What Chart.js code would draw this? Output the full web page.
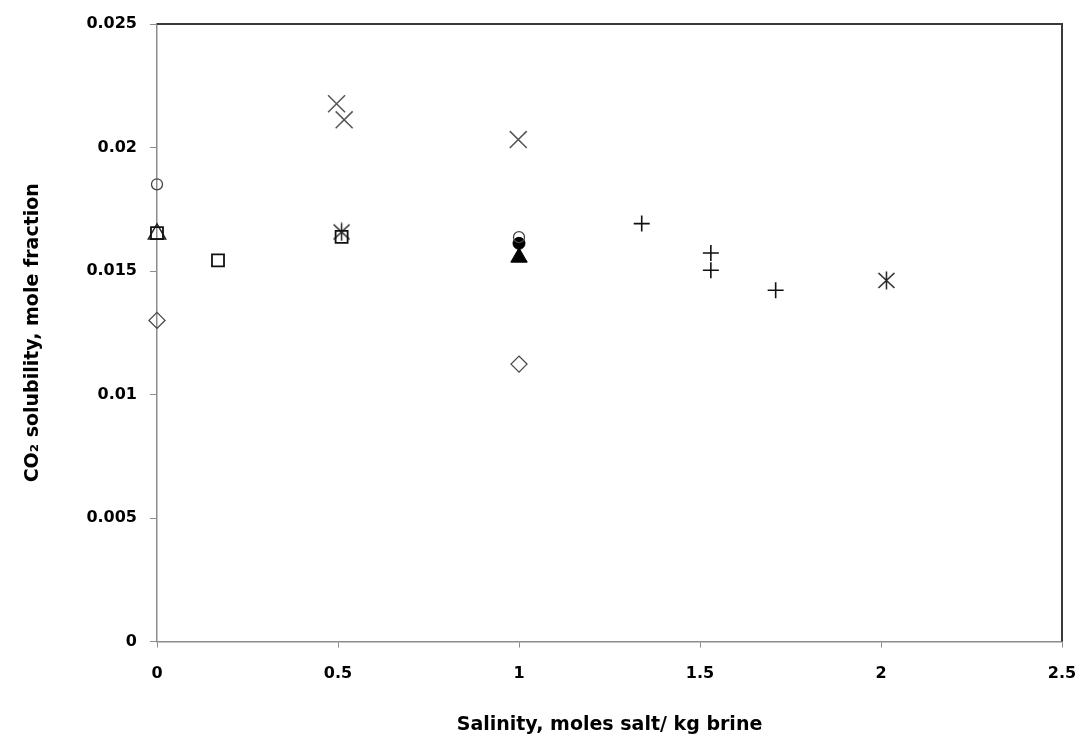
<!DOCTYPE html>
<html>
<head>
<meta charset="utf-8">
<script src="https://cdn.jsdelivr.net/npm/chart.js@4/dist/chart.umd.min.js"></script>
<style>
  html, body { margin: 0; padding: 0; background: #ffffff; }
  #wrap { width: 1082px; height: 742px; position: relative; }
</style>
</head>
<body>
<div id="wrap"><canvas id="c" width="1082" height="742"></canvas></div>
<script>
// ---- Data (x = salinity, y = CO2 mole fraction) ----
const openCircleX   = [0, 1.0];
const openCircleY   = [0.01851, 0.01637];
const openSquareX   = [0, 0.1685, 0.510];
const openSquareY   = [0.01653, 0.01543, 0.01638];
const openTriangleX = [0];
const openTriangleY = [0.01650];
const diamondX      = [0, 1.0];
const diamondY      = [0.01300, 0.01123];
const crossXX       = [0.496, 0.517, 0.998];
const crossXY       = [0.02177, 0.02112, 0.02032];
const starX         = [0.510, 2.015];
const starY         = [0.01658, 0.01462];
const plusX         = [1.339, 1.530, 1.530, 1.709];
const plusY         = [0.01692, 0.01573, 0.01503, 0.01422];
const filledCircleX = [1.0];
const filledCircleY = [0.01612];
const filledTriX    = [1.0];
const filledTriY    = [0.01555];

const xTicks = [0, 0.5, 1, 1.5, 2, 2.5];
const xTickLabels = ['0', '0.5', '1', '1.5', '2', '2.5'];
const yTicks = [0, 0.005, 0.01, 0.015, 0.02, 0.025];
const yTickLabels = ['0', '0.005', '0.01', '0.015', '0.02', '0.025'];

const xTitle = 'Salinity, moles salt/ kg brine';
const yTitle = 'CO\u2082 solubility, mole fraction';

function pts(xs, ys) { return xs.map((x, i) => ({ x: x, y: ys[i] })); }

// Asterisk marker (X with vertical bar), as in the reference
const star = document.createElement('canvas');
star.width = 19; star.height = 19;
(function () {
  const c = star.getContext('2d');
  c.strokeStyle = '#222';
  c.lineWidth = 1.5;
  c.beginPath();
  c.moveTo(1.5, 2); c.lineTo(17.5, 17);
  c.moveTo(17.5, 2); c.lineTo(1.5, 17);
  c.moveTo(9.5, 0.5); c.lineTo(9.5, 18.5);
  c.stroke();
})();

const FONT = "'DejaVu Sans', 'Liberation Sans', Arial, sans-serif";

const frame = {
  id: 'frame',
  beforeDatasetsDraw(chart) {
    const a = chart.chartArea, ctx = chart.ctx;
    ctx.save();
    ctx.strokeStyle = '#3a3a3a';
    ctx.lineWidth = 2;
    ctx.beginPath();
    ctx.moveTo(a.left, a.top);
    ctx.lineTo(a.right, a.top);
    ctx.lineTo(a.right, a.bottom);
    ctx.stroke();
    ctx.restore();
  }
};

function ds(label, data, style, radius, opts) {
  return Object.assign({
    label: label,
    data: data,
    showLine: false,
    clip: false,
    pointStyle: style,
    pointRadius: radius,
    pointHoverRadius: radius,
    pointBorderWidth: 1.5,
    pointBorderColor: '#222',
    pointBackgroundColor: 'rgba(0,0,0,0)'
  }, opts || {});
}

new Chart(document.getElementById('c'), {
  type: 'scatter',
  data: {
    datasets: [
      ds('open circle', pts(openCircleX, openCircleY), 'circle', 5.5, { pointBorderColor: '#444', pointBorderWidth: 1.3 }),
      ds('open square', pts(openSquareX, openSquareY), 'rect', 8.5, { pointBorderColor: '#111', pointBorderWidth: 1.8 }),
      ds('open triangle', pts(openTriangleX, openTriangleY), 'triangle', 10, { pointBorderColor: '#222' }),
      ds('diamond', pts(diamondX, diamondY), 'rectRot', 8, { pointBorderColor: '#444', pointBorderWidth: 1.3 }),
      ds('x', pts(crossXX, crossXY), 'crossRot', 12, { pointBorderColor: '#555', pointBorderWidth: 1.5 }),
      ds('star', pts(starX, starY), star, 9),
      ds('plus', pts(plusX, plusY), 'cross', 8, { pointBorderColor: '#111', pointBorderWidth: 1.6 }),
      ds('filled circle', pts(filledCircleX, filledCircleY), 'circle', 6, { pointBorderColor: '#000', pointBackgroundColor: '#000', pointBorderWidth: 1 }),
      ds('filled triangle', pts(filledTriX, filledTriY), 'triangle', 9.5, { pointBorderColor: '#000', pointBackgroundColor: '#000', pointBorderWidth: 1 })
    ]
  },
  options: {
    responsive: false,
    animation: false,
    events: [],
    layout: { padding: { top: 24, right: 20, left: 0, bottom: 0 } },
    plugins: { legend: { display: false }, tooltip: { enabled: false } },
    scales: {
      x: {
        type: 'linear',
        min: xTicks[0],
        max: xTicks[xTicks.length - 1],
        afterBuildTicks: (s) => { s.ticks = xTicks.map(v => ({ value: v })); },
        afterFit: (s) => { s.height = 100.5; s.paddingLeft = 0; s.paddingRight = 0; },
        ticks: {
          color: '#000',
          font: { family: FONT, size: 16, weight: 'bold' },
          padding: 17,
          maxRotation: 0,
          autoSkip: false,
          callback: (v, i) => xTickLabels[i]
        },
        grid: { display: true, drawOnChartArea: false, drawTicks: true, tickLength: 6, color: '#8c8c8c', lineWidth: 1 },
        border: { display: true, color: '#8c8c8c', width: 1.5 },
        title: {
          display: true,
          text: xTitle,
          color: '#000',
          font: { family: FONT, size: 19, weight: 'bold' },
          padding: { top: 0, bottom: 6 }
        }
      },
      y: {
        type: 'linear',
        min: yTicks[0],
        max: yTicks[yTicks.length - 1],
        afterBuildTicks: (s) => { s.ticks = yTicks.map(v => ({ value: v })); },
        afterFit: (s) => { s.width = 157; s.paddingTop = 0; s.paddingBottom = 0; },
        ticks: {
          color: '#000',
          font: { family: FONT, size: 16, weight: 'bold' },
          padding: 13,
          autoSkip: false,
          callback: (v, i) => yTickLabels[i]
        },
        grid: { display: true, drawOnChartArea: false, drawTicks: true, tickLength: 7, color: '#8c8c8c', lineWidth: 1 },
        border: { display: true, color: '#8c8c8c', width: 1.5 },
        title: {
          display: true,
          text: yTitle,
          color: '#000',
          font: { family: FONT, size: 19, weight: 'bold' },
          padding: { top: 22, bottom: 0 }
        }
      }
    }
  },
  plugins: [frame]
});
</script>
</body>
</html>
